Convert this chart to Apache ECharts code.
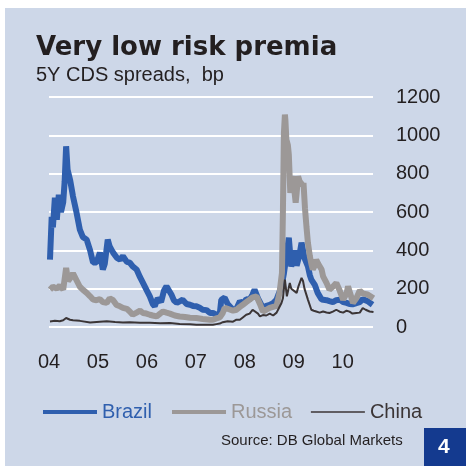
<!DOCTYPE html>
<html>
<head>
<meta charset="utf-8">
<script src="https://cdn.jsdelivr.net/npm/echarts@6/dist/echarts.min.js"></script>
<style>
  html, body { margin: 0; padding: 0; background: #ffffff; }
  #chart { width: 467px; height: 466px; }
</style>
</head>
<body>
<div id="chart"></div>
<script>
// x = decimal year, y = spread in bp
const brazil = [
  [2004.02, 351], [2004.055, 575], [2004.08, 520], [2004.12, 675], [2004.16, 560],
  [2004.2, 690], [2004.245, 600], [2004.29, 650], [2004.32, 760], [2004.35, 943],
  [2004.38, 820], [2004.43, 769], [2004.49, 682], [2004.56, 600], [2004.63, 508],
  [2004.69, 470], [2004.77, 456], [2004.84, 400], [2004.9, 336], [2004.97, 336],
  [2005.04, 388], [2005.1, 300], [2005.14, 330], [2005.2, 456], [2005.24, 420],
  [2005.31, 388], [2005.39, 360], [2005.45, 351], [2005.51, 370], [2005.59, 340],
  [2005.65, 336], [2005.71, 316], [2005.79, 300], [2005.86, 260], [2005.92, 230],
  [2006.0, 190], [2006.06, 160], [2006.12, 120], [2006.16, 108], [2006.22, 150],
  [2006.29, 130], [2006.35, 190], [2006.4, 212], [2006.43, 200], [2006.5, 170],
  [2006.55, 140], [2006.61, 126], [2006.67, 134], [2006.73, 142], [2006.81, 120],
  [2006.88, 116], [2006.94, 110], [2007.01, 108], [2007.08, 100], [2007.14, 90],
  [2007.22, 88], [2007.29, 73], [2007.35, 73], [2007.42, 64], [2007.49, 70],
  [2007.52, 142], [2007.59, 153], [2007.65, 120], [2007.69, 115], [2007.76, 90],
  [2007.83, 95], [2007.9, 134], [2007.96, 120], [2008.03, 145], [2008.1, 143],
  [2008.16, 170], [2008.2, 195], [2008.27, 150], [2008.31, 130], [2008.37, 100],
  [2008.44, 110], [2008.51, 115], [2008.58, 125], [2008.65, 143], [2008.69, 170],
  [2008.75, 212], [2008.8, 280], [2008.85, 368], [2008.9, 466], [2008.95, 316],
  [2008.99, 350], [2009.02, 400], [2009.06, 320], [2009.09, 316], [2009.12, 380],
  [2009.16, 440], [2009.19, 400], [2009.22, 360], [2009.29, 316], [2009.33, 270],
  [2009.36, 247], [2009.43, 220], [2009.49, 178], [2009.57, 143], [2009.67, 140],
  [2009.73, 135], [2009.8, 130], [2009.87, 140], [2009.94, 143], [2010.01, 130],
  [2010.08, 126], [2010.14, 120], [2010.2, 118], [2010.28, 125], [2010.35, 130],
  [2010.41, 145], [2010.45, 153], [2010.51, 135], [2010.55, 130], [2010.61, 116]
]
const russia = [
  [2004.02, 195], [2004.08, 210], [2004.16, 200], [2004.22, 216], [2004.29, 195],
  [2004.35, 308], [2004.39, 240], [2004.46, 264], [2004.49, 280], [2004.57, 240],
  [2004.63, 210], [2004.69, 195], [2004.77, 178], [2004.84, 160], [2004.9, 143],
  [2004.97, 140], [2005.04, 145], [2005.1, 130], [2005.18, 126], [2005.24, 150],
  [2005.31, 140], [2005.38, 115], [2005.45, 108], [2005.51, 100], [2005.59, 95],
  [2005.65, 81], [2005.71, 64], [2005.79, 75], [2005.86, 85], [2005.92, 73],
  [2005.99, 70], [2006.06, 64], [2006.12, 60], [2006.2, 55], [2006.27, 70],
  [2006.33, 81], [2006.4, 75], [2006.47, 70], [2006.57, 60], [2006.67, 55],
  [2006.78, 52], [2006.88, 48], [2007.01, 47], [2007.14, 42], [2007.29, 38],
  [2007.35, 38], [2007.42, 45], [2007.49, 50], [2007.55, 73], [2007.59, 100],
  [2007.65, 95], [2007.69, 90], [2007.76, 85], [2007.83, 90], [2007.9, 105],
  [2007.96, 116], [2008.03, 130], [2008.1, 143], [2008.16, 155], [2008.24, 160],
  [2008.31, 120], [2008.37, 81], [2008.44, 90], [2008.51, 100], [2008.58, 105],
  [2008.65, 110], [2008.71, 178], [2008.76, 283], [2008.78, 612], [2008.8, 1013],
  [2008.82, 1108], [2008.83, 1080], [2008.85, 978], [2008.88, 950], [2008.9, 900],
  [2008.93, 700], [2008.96, 760], [2008.99, 786], [2009.01, 720], [2009.04, 648],
  [2009.06, 700], [2009.09, 786], [2009.12, 760], [2009.16, 770], [2009.18, 740],
  [2009.2, 752], [2009.23, 620], [2009.26, 525], [2009.29, 440], [2009.33, 368],
  [2009.36, 330], [2009.39, 300], [2009.43, 320], [2009.46, 351], [2009.5, 330],
  [2009.53, 340], [2009.57, 300], [2009.6, 264], [2009.67, 230], [2009.73, 195],
  [2009.8, 210], [2009.87, 230], [2009.94, 190], [2010.01, 143], [2010.08, 175],
  [2010.11, 212], [2010.16, 170], [2010.21, 126], [2010.28, 150], [2010.35, 190],
  [2010.41, 175], [2010.45, 180], [2010.51, 170], [2010.55, 160], [2010.63, 150]
]
const china = [
  [2004.02, 29], [2004.12, 32], [2004.22, 30], [2004.29, 35], [2004.35, 47],
  [2004.43, 38], [2004.49, 35], [2004.63, 32], [2004.84, 24], [2005.04, 28],
  [2005.18, 30], [2005.35, 26], [2005.51, 24], [2005.65, 25], [2005.86, 22],
  [2006.06, 22], [2006.27, 20], [2006.47, 21], [2006.67, 16], [2006.88, 14],
  [2007.01, 12], [2007.18, 12], [2007.35, 12], [2007.42, 15], [2007.49, 18],
  [2007.55, 25], [2007.65, 30], [2007.76, 28], [2007.83, 38], [2007.9, 38],
  [2007.96, 50], [2008.03, 64], [2008.1, 70], [2008.16, 90], [2008.2, 100],
  [2008.27, 70], [2008.31, 55], [2008.37, 62], [2008.44, 60], [2008.51, 70],
  [2008.58, 60], [2008.65, 75], [2008.68, 90], [2008.75, 125], [2008.78, 150],
  [2008.82, 247], [2008.86, 160], [2008.92, 230], [2008.95, 200], [2008.99, 200],
  [2009.06, 178], [2009.1, 215], [2009.16, 256], [2009.19, 240], [2009.22, 200],
  [2009.29, 143], [2009.36, 90], [2009.41, 85], [2009.46, 81], [2009.53, 75],
  [2009.6, 81], [2009.67, 76], [2009.73, 73], [2009.8, 80], [2009.87, 90],
  [2009.94, 80], [2010.01, 75], [2010.08, 85], [2010.14, 80], [2010.2, 70],
  [2010.28, 73], [2010.35, 75], [2010.41, 99], [2010.47, 90], [2010.55, 81],
  [2010.63, 78]
]
const seriesNames = ['Brazil', 'Russia', 'China']
const seriesColors = ['#2f5fae', '#9c9897', '#3b3536']
const legendWidths = [4, 4, 1.5]

const myChart = echarts.init(document.getElementById('chart'))

const option = {
  animation: false,
  backgroundColor: '#ffffff',
  textStyle: { fontFamily: 'Liberation Sans, Arial, sans-serif' },
  graphic: [
    {
      type: 'rect',
      z: -10,
      shape: { x: 5, y: 8, width: 461, height: 458 },
      style: { fill: '#cdd7e8' },
    },
    {
      type: 'text',
      left: 221,
      top: 433,
      style: {
        text: 'Source: DB Global Markets',
        fontSize: 15,
        fill: '#231f20',
        fontFamily: 'Liberation Sans, Arial, sans-serif',
      },
    },
    {
      type: 'rect',
      shape: { x: 424, y: 428, width: 42, height: 38 },
      style: { fill: '#143a8f' },
    },
    {
      type: 'text',
      left: 438,
      top: 437,
      style: {
        text: '4',
        fontSize: 21,
        fontWeight: 'bold',
        fill: '#ffffff',
        fontFamily: 'Liberation Sans, Arial, sans-serif',
      },
    },
  ],
  title: [
    {
      text: 'Very low risk premia',
      left: 36,
      top: 35,
      padding: 0,
      textStyle: {
        fontSize: 26,
        fontWeight: 'bold',
        color: '#231f20',
        fontFamily: 'DejaVu Sans',
      },
    },
    {
      text: '5Y CDS spreads,  bp',
      left: 36,
      top: 65,
      padding: 0,
      textStyle: { fontSize: 20, fontWeight: 'normal', color: '#231f20' },
    },
  ],
  legend: {
    left: 36,
    top: 397,
    itemWidth: 54,
    itemHeight: 20,
    itemGap: 18,
    itemStyle: { opacity: 0 },
    data: seriesNames.map((n, i) => ({
      name: n,
      textStyle: { color: seriesColors[i] },
      lineStyle: { width: legendWidths[i] },
    })),
    textStyle: { fontSize: 20 },
  },
  grid: { left: 49, right: 94, top: 97, bottom: 139 },
  xAxis: {
    type: 'value',
    min: 2004,
    max: 2010.62,
    interval: 1,
    axisLine: { show: false },
    axisTick: { show: false },
    splitLine: { show: false },
    axisLabel: {
      fontSize: 20,
      color: '#231f20',
      margin: 25,
      showMaxLabel: false,
      formatter: (v) => String(Math.round(v) % 100).padStart(2, '0'),
    },
  },
  yAxis: {
    type: 'value',
    position: 'right',
    min: 0,
    max: 1200,
    interval: 200,
    axisLine: { show: false },
    axisTick: { show: false },
    splitLine: { lineStyle: { color: '#ffffff', width: 2 } },
    axisLabel: {
      fontSize: 20,
      color: '#231f20',
      margin: 23,
      align: 'left',
      formatter: (v) => String(v),
    },
  },
  series: [
    {
      name: 'Brazil',
      type: 'line',
      data: brazil,
      symbol: 'none',
      z: 3,
      lineStyle: { color: seriesColors[0], width: 6 },
      itemStyle: { color: seriesColors[0] },
    },
    {
      name: 'Russia',
      type: 'line',
      data: russia,
      symbol: 'none',
      z: 4,
      lineStyle: { color: seriesColors[1], width: 6 },
      itemStyle: { color: seriesColors[1] },
    },
    {
      name: 'China',
      type: 'line',
      data: china,
      symbol: 'none',
      z: 5,
      lineStyle: { color: seriesColors[2], width: 2 },
      itemStyle: { color: seriesColors[2] },
    },
  ],
}

myChart.setOption(option)
</script>
</body>
</html>
